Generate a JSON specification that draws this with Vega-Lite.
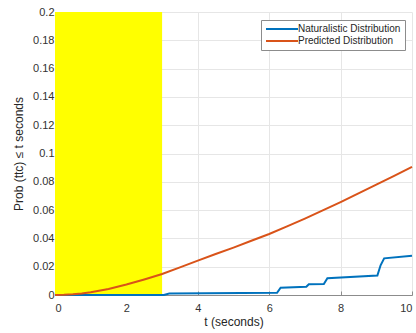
{
  "$schema": "https://vega.github.io/schema/vega-lite/v6.json",
  "width": 357,
  "height": 283,
  "autosize": {"type": "none"},
  "padding": {"left": 55, "top": 12, "right": 4, "bottom": 38},
  "background": "white",
  "config": {
    "view": {"stroke": null},
    "font": "Liberation Sans",
    "axis": {
      "gridColor": "#e6e6e6",
      "gridWidth": 1,
      "domainColor": "#8c8c8c",
      "tickColor": "#8c8c8c",
      "tickSize": -4,
      "labelColor": "#333333",
      "labelFontSize": 11,
      "labelOverlap": false,
      "titleColor": "#262626",
      "titleFontSize": 12,
      "titleFontWeight": "normal"
    }
  },
  "layer": [
    {
      "data": {"values": [{"t_start": 0, "t_end": 3, "p_low": 0, "p_high": 0.2}]},
      "mark": {"type": "rect", "color": "#ffff00"},
      "encoding": {
        "x": {
          "field": "t_start",
          "type": "quantitative",
          "title": "t (seconds)",
          "scale": {"domain": [0, 10], "nice": false},
          "axis": {"values": [0, 2, 4, 6, 8, 10], "labelPadding": 11, "titlePadding": 3}
        },
        "x2": {"field": "t_end"},
        "y": {
          "field": "p_low",
          "type": "quantitative",
          "title": "Prob (ttc) ≤ t seconds",
          "scale": {"domain": [0, 0.2], "nice": false},
          "axis": {
            "values": [0, 0.02, 0.04, 0.06, 0.08, 0.1, 0.12, 0.14, 0.16, 0.18, 0.2],
            "format": "~g",
            "labelOverlap": false,
            "labelPadding": 5,
            "titlePadding": 7
          }
        },
        "y2": {"field": "p_high"}
      }
    },
    {
      "data": {
        "values": [
          {"series": "Naturalistic Distribution", "t": 0, "p": 0},
          {"series": "Naturalistic Distribution", "t": 3.05, "p": 0},
          {"series": "Naturalistic Distribution", "t": 3.2, "p": 0.001},
          {"series": "Naturalistic Distribution", "t": 6.22, "p": 0.0016},
          {"series": "Naturalistic Distribution", "t": 6.32, "p": 0.0052},
          {"series": "Naturalistic Distribution", "t": 7.04, "p": 0.0058},
          {"series": "Naturalistic Distribution", "t": 7.11, "p": 0.0076},
          {"series": "Naturalistic Distribution", "t": 7.53, "p": 0.0077},
          {"series": "Naturalistic Distribution", "t": 7.63, "p": 0.0118},
          {"series": "Naturalistic Distribution", "t": 9.03, "p": 0.0137},
          {"series": "Naturalistic Distribution", "t": 9.12, "p": 0.021},
          {"series": "Naturalistic Distribution", "t": 9.22, "p": 0.0259},
          {"series": "Naturalistic Distribution", "t": 10, "p": 0.0278},
          {"series": "Predicted Distribution", "t": 0, "p": 0},
          {"series": "Predicted Distribution", "t": 0.25, "p": 0.0001},
          {"series": "Predicted Distribution", "t": 0.5, "p": 0.0005},
          {"series": "Predicted Distribution", "t": 0.75, "p": 0.0011},
          {"series": "Predicted Distribution", "t": 1, "p": 0.002},
          {"series": "Predicted Distribution", "t": 1.5, "p": 0.0043},
          {"series": "Predicted Distribution", "t": 2, "p": 0.0074},
          {"series": "Predicted Distribution", "t": 2.5, "p": 0.011},
          {"series": "Predicted Distribution", "t": 3, "p": 0.0148},
          {"series": "Predicted Distribution", "t": 3.5, "p": 0.0195},
          {"series": "Predicted Distribution", "t": 4, "p": 0.0243},
          {"series": "Predicted Distribution", "t": 4.5, "p": 0.029},
          {"series": "Predicted Distribution", "t": 5, "p": 0.0335},
          {"series": "Predicted Distribution", "t": 5.5, "p": 0.0383},
          {"series": "Predicted Distribution", "t": 6, "p": 0.0431},
          {"series": "Predicted Distribution", "t": 6.5, "p": 0.0485},
          {"series": "Predicted Distribution", "t": 7, "p": 0.054},
          {"series": "Predicted Distribution", "t": 7.5, "p": 0.0598},
          {"series": "Predicted Distribution", "t": 8, "p": 0.0657},
          {"series": "Predicted Distribution", "t": 8.5, "p": 0.0718},
          {"series": "Predicted Distribution", "t": 9, "p": 0.078},
          {"series": "Predicted Distribution", "t": 9.5, "p": 0.0842},
          {"series": "Predicted Distribution", "t": 10, "p": 0.0905}
        ]
      },
      "mark": {"type": "line", "strokeWidth": 2, "interpolate": "linear"},
      "encoding": {
        "x": {
          "field": "t",
          "type": "quantitative",
          "title": "t (seconds)",
          "scale": {"domain": [0, 10], "nice": false},
          "axis": {"values": [0, 2, 4, 6, 8, 10], "labelPadding": 11, "titlePadding": 3}
        },
        "y": {
          "field": "p",
          "type": "quantitative",
          "title": "Prob (ttc) ≤ t seconds",
          "scale": {"domain": [0, 0.2], "nice": false},
          "axis": {
            "values": [0, 0.02, 0.04, 0.06, 0.08, 0.1, 0.12, 0.14, 0.16, 0.18, 0.2],
            "format": "~g",
            "labelOverlap": false,
            "labelPadding": 5,
            "titlePadding": 7
          }
        },
        "color": {
          "field": "series",
          "type": "nominal",
          "scale": {
            "domain": ["Naturalistic Distribution", "Predicted Distribution"],
            "range": ["#0072bd", "#d95319"]
          },
          "legend": {
            "title": null,
            "orient": "none",
            "legendX": 206,
            "legendY": 8,
            "symbolType": "M-4,0H4",
            "symbolSize": 64,
            "symbolStrokeWidth": 2,
            "symbolOffset": 12,
            "labelFontSize": 10,
            "labelColor": "#262626",
            "labelOffset": 11,
            "rowPadding": 2,
            "padding": 4,
            "strokeColor": "#8c8c8c",
            "fillColor": "white"
          }
        }
      }
    }
  ]
}
